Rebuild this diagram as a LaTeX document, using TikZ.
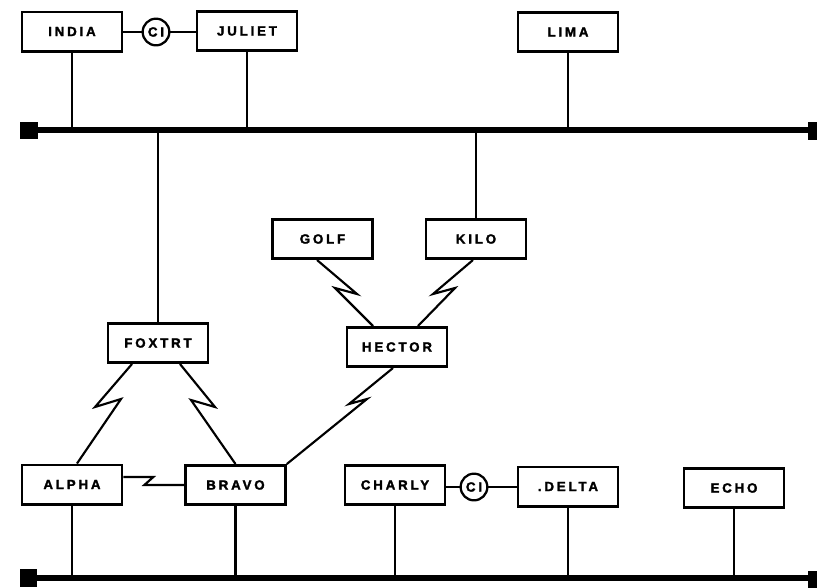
\documentclass[tikz,border=0pt]{standalone}
\usepackage{fontspec}
\setmainfont{Liberation Sans}
\newfontfamily\boxfont{Liberation Sans Bold}[LetterSpace=21, FakeBold=2]
\usetikzlibrary{calc}
\begin{document}
\begin{tikzpicture}[x=0.75pt,y=-0.75pt,
  box/.style={draw, line width=2pt, minimum width=75pt, minimum height=29.5pt, inner sep=0pt,
    font=\boxfont\fontsize{10}{11}\selectfont},
  ci/.style={draw, circle, line width=1.7pt, minimum size=20pt, inner sep=0pt,
    font=\boxfont\fontsize{10}{11}\selectfont},
  link/.style={line width=1.6pt, line join=miter},
  bus/.style={line width=4.8pt},
  term/.style={fill=black, inner sep=0pt}]
\useasboundingbox (0,0) rectangle (817,587);

% top row
\node[box] (india) at (72,31.5) {INDIA};
\node[ci] (ci1) at (156,32) {CI};
\node[box] (juliet) at (247,31) {JULIET};
\node[box] (lima) at (568,32) {LIMA};

% middle
\node[box] (golf) at (322.5,239) {GOLF};
\node[box] (kilo) at (476,239) {KILO};
\node[box] (foxtrt) at (158,343) {FOXTRT};
\node[box] (hector) at (397,347) {HECTOR};

% bottom row
\node[box] (alpha) at (72,484.5) {ALPHA};
\node[box] (bravo) at (235.5,485) {BRAVO};
\node[box] (charly) at (395,485) {CHARLY};
\node[ci] (ci2) at (474,487) {CI};
\node[box] (delta) at (568,486.5) {.DELTA};
\node[box] (echo) at (734,488) {ECHO};

% top bus
\coordinate (tbL) at (36,130);
\coordinate (tbR) at (810,130);
\draw[bus] (tbL) -- (tbR);
\node[term, minimum width=13.5pt, minimum height=12.75pt] (tterml) at (29,130) {};
\node[term, minimum width=6.75pt, minimum height=13.5pt] (ttermr) at (812.5,131) {};

% bottom bus
\coordinate (bbL) at (36,578);
\coordinate (bbR) at (810,578);
\draw[bus] (bbL) -- (bbR);
\node[term, minimum width=12.75pt, minimum height=13.5pt] (bterml) at (28.5,578) {};
\node[term, minimum width=6.75pt, minimum height=12.75pt] (btermr) at (812.5,579) {};

% CI links
\draw[link] (india.east |- ci1) -- (ci1.west);
\draw[link] (ci1.east) -- (juliet.west |- ci1);
\draw[link] (charly.east |- ci2) -- (ci2.west);
\draw[link] (ci2.east) -- (delta.west |- ci2);

% drops to top bus
\draw[link] (india.south) -- (india.south |- tbL);
\draw[link] (juliet.south) -- (juliet.south |- tbL);
\draw[link] (lima.south) -- (lima.south |- tbL);
\draw[link] (foxtrt.north) -- (foxtrt.north |- tbL);
\draw[link] (kilo.north) -- (kilo.north |- tbL);

% drops to bottom bus
\draw[link] (alpha.south) -- (alpha.south |- bbL);
\draw[link] (bravo.south) -- (bravo.south |- bbL);
\draw[link] (charly.south) -- (charly.south |- bbL);
\draw[link] (delta.south) -- (delta.south |- bbL);
\draw[link] (echo.south) -- (echo.south |- bbL);

% radio (lightning) links
\draw[link] ($(foxtrt.south)+(-26,0)$) -- ++(-37,43) -- ++(26,-8) -- ($(alpha.north)+(5,0)$);
\draw[link] ($(foxtrt.south)+(22,0)$) -- ++(35,43) -- ++(-24,-7) -- (bravo.north);
\draw[link] ($(golf.south)+(-5.5,0)$) -- ++(40,34) -- ++(-22,-6) -- ($(hector.north)+(-24,0)$);
\draw[link] ($(kilo.south)+(-3,0)$) -- ++(-40,34) -- ++(22,-6) -- ($(hector.north)+(21,0)$);
\draw[link] ($(hector.south)+(-4,0)$) -- ++(-44,36) -- ++(18,-5) -- (bravo.north east);
\draw[link] ($(alpha.east)+(0,-7.5)$) -- ++(30,0) -- ++(-9,8) -- (bravo.west);
\end{tikzpicture}
\end{document}
